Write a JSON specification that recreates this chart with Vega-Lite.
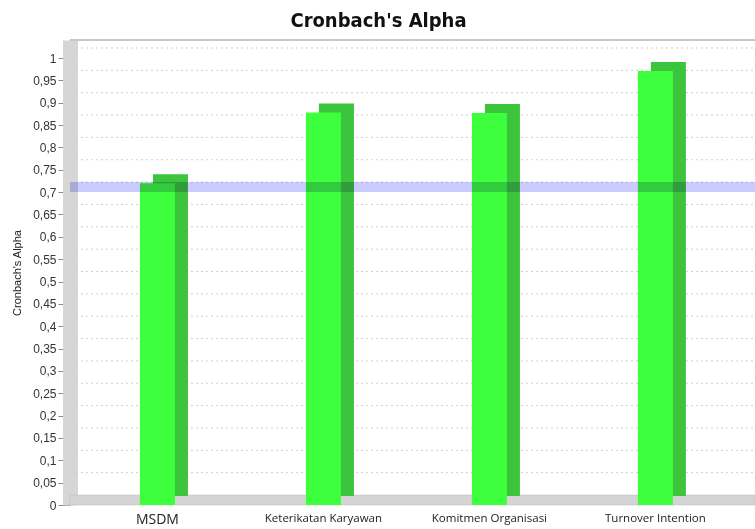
{
  "$schema": "https://vega.github.io/schema/vega-lite/v6.json",
  "width": 685,
  "height": 465,
  "autosize": {"type": "none"},
  "padding": {"left": 70, "top": 40, "right": 0, "bottom": 24},
  "background": "white",
  "config": {
    "view": {"stroke": null},
    "axisY": {
      "tickCount": 21,
      "labelOverlap": false,
      "labelBound": false,
      "labelExpr": "replace(format(datum.value, '.2~f'), '.', ',')",
      "titleFont": "Liberation Sans",
      "titleFontSize": 11,
      "titleFontWeight": "normal",
      "titleColor": "#222",
      "titlePadding": 10,
      "labelFont": "Liberation Sans",
      "labelFontSize": 12,
      "labelColor": "#333",
      "labelPadding": 2,
      "tickSize": 12,
      "tickColor": "#888",
      "domainColor": "#d6d6d6",
      "domainWidth": 15,
      "grid": false
    }
  },
  "title": {
    "text": "Cronbach's Alpha",
    "font": "'Liberation Sans Narrow', 'DejaVu Sans Condensed', 'Liberation Sans', sans-serif",
    "fontSize": 20,
    "fontWeight": "bold",
    "color": "#111",
    "anchor": "middle",
    "frame": "group",
    "dx": -34,
    "offset": 8
  },
  "datasets": {
    "bars": [
      {"variabel": "MSDM", "alpha": 0.72},
      {"variabel": "Keterikatan Karyawan", "alpha": 0.878},
      {"variabel": "Komitmen Organisasi", "alpha": 0.877},
      {"variabel": "Turnover Intention", "alpha": 0.971}
    ],
    "grid": [
      {"v": 0.05}, {"v": 0.1}, {"v": 0.15}, {"v": 0.2}, {"v": 0.25}, {"v": 0.3}, {"v": 0.35}, {"v": 0.4}, {"v": 0.45}, {"v": 0.5},
      {"v": 0.55}, {"v": 0.6}, {"v": 0.65}, {"v": 0.7}, {"v": 0.75}, {"v": 0.8}, {"v": 0.85}, {"v": 0.9}, {"v": 0.95}, {"v": 1}
    ]
  },
  "layer": [
    {
      "data": {"name": "grid"},
      "mark": {"type": "rule", "color": "#cfcfcf", "strokeWidth": 1, "strokeDash": [2, 3], "xOffset": 8, "yOffset": -10},
      "encoding": {
        "y": {"field": "v", "type": "quantitative", "scale": {"domain": [0, 1.0403], "nice": false, "zero": true},
          "axis": {
            "values": [0, 0.05, 0.1, 0.15, 0.2, 0.25, 0.3, 0.35, 0.4, 0.45, 0.5, 0.55, 0.6, 0.65, 0.7, 0.75, 0.8, 0.85, 0.9, 0.95, 1],
            "title": "Cronbach's Alpha"
          }
        }
      }
    },
    {
      "data": {"values": [{"top": 1.0403}]},
      "mark": {"type": "rule", "color": "#c8c8c8", "strokeWidth": 2, "xOffset": 8},
      "encoding": {"y": {"field": "top", "type": "quantitative"}}
    },
    {
      "data": {"values": [{"base": 0}]},
      "mark": {"type": "rect", "color": "#d4d4d4", "y2Offset": -10, "stroke": "#bdbdbd", "strokeWidth": 0.5},
      "encoding": {
        "y": {"field": "base", "type": "quantitative"},
        "y2": {"field": "base"}
      }
    },
    {
      "data": {"name": "bars"},
      "mark": {"type": "bar", "color": "#3cc43c", "xOffset": 13, "x2Offset": 13, "yOffset": -9, "y2Offset": -9},
      "encoding": {
        "x": {"field": "variabel", "type": "nominal", "sort": null,
          "scale": {"paddingInner": 0.789, "paddingOuter": 0.458, "align": 0.46},
          "axis": {
            "title": null,
            "domain": false,
            "ticks": false,
            "labelAngle": 0,
            "labelPadding": 7,
            "labelFont": "Open Sans",
            "labelFontSize": {"expr": "datum.value == 'MSDM' ? 14 : 11.5"},
            "labelColor": "#222"
          }
        },
        "y": {"field": "alpha", "type": "quantitative"}
      }
    },
    {
      "data": {"name": "bars"},
      "mark": {"type": "bar", "color": "#3dff3d"},
      "encoding": {
        "x": {"field": "variabel", "type": "nominal", "sort": null},
        "y": {"field": "alpha", "type": "quantitative"}
      }
    },
    {
      "data": {"values": [{"cut": 0.7}]},
      "mark": {"type": "rect", "color": "#cbcbff", "y2Offset": -10, "blend": "multiply"},
      "encoding": {
        "y": {"field": "cut", "type": "quantitative"},
        "y2": {"field": "cut"}
      }
    }
  ]
}
